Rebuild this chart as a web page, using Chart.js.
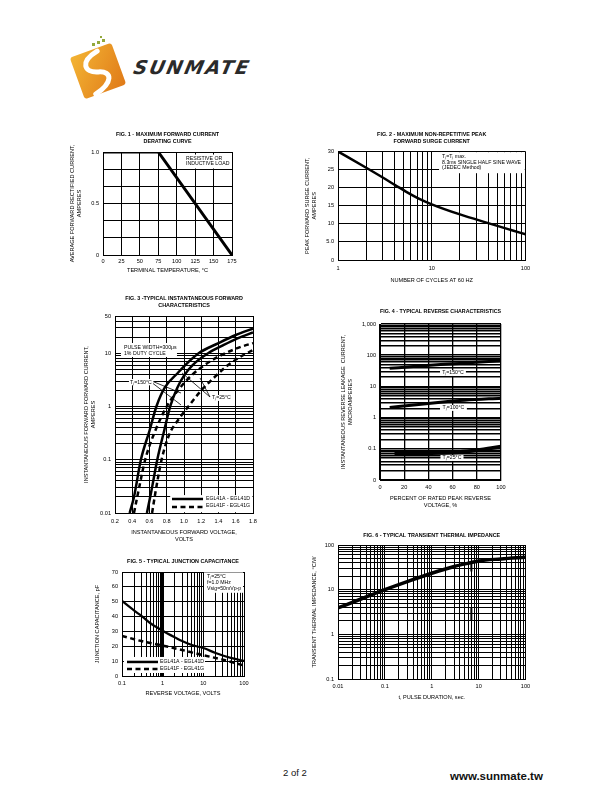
<!DOCTYPE html>
<html>
<head>
  <meta charset="utf-8">
  <title>EGL41 Ratings and Characteristic Curves</title>
  <script src="https://cdn.jsdelivr.net/npm/chart.js"></script>
  <style>
    body { margin: 0; background: #fff; font-family: 'Liberation Sans', Arial, sans-serif; }
    .page { position: relative; width: 610px; height: 810px; overflow: hidden; background: #fff; }
    canvas { position: absolute; }
    .brand { position: absolute; left: 134px; top: 56px; font: bold italic 19px 'DejaVu Sans', sans-serif;
             letter-spacing: 2px; color: #2a2a2a; transform: skewX(-12deg); }
    .pageno { position: absolute; left: 283px; top: 767px; font-size: 9.5px; color: #111; }
    .site { position: absolute; left: 450px; top: 770px; font-size: 11.5px; font-weight: bold; color: #111; }
  </style>
</head>
<body>
<div class="page">
  <svg style="position:absolute;left:62px;top:34px" width="70" height="70" viewBox="0 0 70 70">
    <defs>
      <linearGradient id="og" x1="0" y1="0" x2="1" y2="1">
        <stop offset="0" stop-color="#f3b434"/>
        <stop offset="1" stop-color="#e07a18"/>
      </linearGradient>
    </defs>
    <g transform="rotate(-20 36 37)">
      <rect x="14" y="15" width="44" height="44" rx="3" fill="url(#og)"/>
      <path d="M42 18 C22 22 22 34 36 38 C50 42 46 53 26 58" stroke="#fff" stroke-width="5" fill="none" stroke-linecap="round"/>
    </g>
    <g fill="#93a83c">
      <rect x="30" y="9" width="3" height="3"/><rect x="35" y="7" width="3" height="3"/>
      <rect x="40" y="5" width="3" height="3"/><rect x="38" y="2" width="2" height="2"/>
    </g>
  </svg>
  <div class="brand">SUNMATE</div>

  <canvas id="fig1"></canvas>
  <canvas id="fig2"></canvas>
  <canvas id="fig3"></canvas>
  <canvas id="fig4"></canvas>
  <canvas id="fig5"></canvas>
  <canvas id="fig6"></canvas>

  <div class="pageno">2 of 2</div>
  <div class="site">www.sunmate.tw</div>
</div>

<script>
  // ---------- data ----------
  // Fig 1 - derating curve
  const fig1Temp = [0, 75, 175];
  const fig1Current = [1.0, 1.0, 0];
  const fig1XTicks = [0, 25, 50, 75, 100, 125, 150, 175];
  const fig1YTicks = [0, 0.1667, 0.3333, 0.5, 0.6667, 0.8333, 1.0];
  const fig1YLabelValues = [0, 0.5, 1.0];
  const fig1YLabelText = ['0', '0.5', '1.0'];

  // Fig 2 - surge current
  const fig2Cycles = [1, 2, 3, 4, 5, 7, 10, 20, 40, 70, 100];
  const fig2Surge = [30, 25.5, 22.8, 20.8, 19.3, 17.2, 15.4, 12.6, 10.2, 8.3, 7.1];
  const fig2YTicks = [0, 5, 10, 15, 20, 25, 30];
  const fig2YLabelText = ['0', '5.0', '10', '15', '20', '25', '30'];
  const fig2XLabelValues = [1, 10, 100];
  const fig2XLabelText = ['1', '10', '100'];

  // Fig 3 - forward characteristics (volts, amperes)
  const fig3SolidHotV = [0.37, 0.42, 0.5, 0.6, 0.68, 0.78, 0.93, 1.05, 1.17, 1.4, 1.6, 1.8];
  const fig3SolidHotI = [0.01, 0.02, 0.1, 0.35, 1, 2.3, 4.3, 6.8, 10, 15.5, 22, 29];
  const fig3SolidColdV = [0.57, 0.62, 0.69, 0.77, 0.84, 0.92, 1.0, 1.1, 1.28, 1.45, 1.62, 1.8];
  const fig3SolidColdI = [0.01, 0.025, 0.1, 0.35, 1, 2.2, 3.8, 6, 10, 14, 19, 24.5];
  const fig3DashHotV = [0.42, 0.47, 0.55, 0.65, 0.8, 0.95, 1.1, 1.3, 1.48, 1.65, 1.8];
  const fig3DashHotI = [0.01, 0.025, 0.1, 0.3, 1, 2.2, 4, 7, 10, 13, 15.5];
  const fig3DashColdV = [0.63, 0.67, 0.74, 0.83, 0.93, 1.05, 1.2, 1.35, 1.5, 1.65, 1.8];
  const fig3DashColdI = [0.01, 0.025, 0.1, 0.3, 0.55, 1, 2, 3.5, 5.8, 8.5, 11.5];
  const fig3XTicks = [0.2, 0.4, 0.6, 0.8, 1.0, 1.2, 1.4, 1.6, 1.8];
  const fig3YLabelValues = [0.01, 0.1, 1, 10, 50];
  const fig3YLabelText = ['0.01', '0.1', '1', '10', '50'];
  // leader lines from the Tj labels
  const fig3Lead150aV = [0.641, 0.965], fig3Lead150aI = [2.94, 1.79];
  const fig3Lead150bV = [0.641, 0.965], fig3Lead150bI = [2.70, 1.07];
  const fig3Lead25aV = [1.301, 0.977], fig3Lead25aI = [1.51, 4.26];
  const fig3Lead25bV = [1.301, 1.186], fig3Lead25bI = [1.51, 3.43];

  // Fig 4 - reverse leakage (percent, microamperes)
  const fig4Pct150 = [8, 30, 50, 70, 100];
  const fig4Leak150 = [38, 44, 50, 56, 66];
  const fig4Pct100 = [8, 30, 50, 70, 100];
  const fig4Leak100 = [2.1, 2.6, 3.1, 3.6, 4.2];
  const fig4Pct25 = [12, 30, 50, 65, 80, 100];
  const fig4Leak25 = [0.069, 0.072, 0.074, 0.078, 0.09, 0.118];
  const fig4XTicks = [0, 20, 40, 60, 80, 100];
  const fig4YLabelValues = [0.01, 0.1, 1, 10, 100, 1000];
  const fig4YLabelText = ['0', '0.1', '1', '10', '100', '1,000'];

  // Fig 5 - junction capacitance (volts, pF)
  const fig5SolidV = [0.1, 0.2, 0.3, 0.5, 1, 2, 3, 5, 10, 20, 30, 50, 100];
  const fig5SolidC = [50.5, 44, 40.5, 35.5, 30.5, 26, 23.5, 21, 18.8, 15.5, 13.8, 12, 10.2];
  const fig5DashV = [0.1, 0.3, 1, 3, 10, 30, 100];
  const fig5DashC = [27, 23.5, 20.5, 17.5, 14, 11, 7];
  const fig5YTicks = [0, 10, 20, 30, 40, 50, 60, 70];
  const fig5XLabelValues = [0.1, 1, 10, 100];
  const fig5XLabelText = ['0.1', '1', '10', '100'];

  // Fig 6 - transient thermal impedance (sec, C/W)
  const fig6Time = [0.01, 0.03, 0.1, 0.3, 1, 3, 7, 10, 30, 100];
  const fig6Imp = [3.9, 6.1, 10, 15.2, 23.3, 33, 40.5, 44, 48.7, 53];
  const fig6MarkA = [25.5, 42], fig6MarkB = [2.1, 3.9], fig6MarkT = [7, 7];
  const fig6XLabelValues = [0.01, 0.1, 1, 10, 100];
  const fig6XLabelText = ['0.01', '0.1', '1', '10', '100'];
  const fig6YLabelValues = [0.1, 1, 10, 100];
  const fig6YLabelText = ['0.1', '1', '10', '100'];

  // ---------- helpers ----------
  const FONT = "'Liberation Sans', Arial, sans-serif";
  const TICK_FONT = { family: FONT, size: 5.6, lineHeight: 1.25 };
  const AXIS_FONT = { family: FONT, size: 5.6, lineHeight: 1.25 };
  const TITLE_FONT = { family: FONT, size: 5.4, weight: 'bold', lineHeight: 1.3 };
  const NOTE_FONT = '5.2px ' + FONT;
  const ALH = 5.6 * 1.25, TLH = 5.4 * 1.3;

  function logGrid(lo, hi) {
    const out = [];
    for (let e = Math.floor(Math.log10(lo)); e <= Math.ceil(Math.log10(hi)); e++) {
      for (let k = 1; k <= 9; k++) {
        const v = +(k * Math.pow(10, e)).toPrecision(3);
        if (v >= lo && v <= hi) out.push(v);
      }
    }
    return out;
  }

  function labeler(values, texts) {
    return v => {
      const i = values.findIndex(u => Math.abs(u - v) <= 1e-6 * Math.abs(u));
      return i >= 0 ? texts[i] : '';
    };
  }

  function pts(xs, ys) { return xs.map((x, i) => ({ x, y: ys[i] })); }

  function curve(xs, ys, width, dash, smooth) {
    return {
      data: pts(xs, ys), showLine: true, borderColor: '#000', borderWidth: width,
      borderDash: dash || [], pointRadius: 0, fill: false,
      cubicInterpolationMode: smooth === false ? 'default' : 'monotone', tension: 0
    };
  }

  // notes are placed in fractions of the plot area
  function notesPlugin(notes) {
    return {
      id: 'notes',
      beforeDatasetsDraw(chart) {
        const { ctx, chartArea: a } = chart;
        const X = f => a.left + f * (a.right - a.left);
        const Y = f => a.top + f * (a.bottom - a.top);
        ctx.save();
        notes.forEach(n => {
          if (n.box) {
            ctx.fillStyle = '#fff';
            ctx.fillRect(X(n.box[0]), Y(n.box[1]), X(n.box[2]) - X(n.box[0]), Y(n.box[3]) - Y(n.box[1]));
          }
          if (n.line) {
            ctx.strokeStyle = '#000';
            ctx.lineWidth = n.width || 1;
            ctx.setLineDash(n.dash || []);
            ctx.beginPath();
            ctx.moveTo(X(n.line[0]), Y(n.line[1]));
            ctx.lineTo(X(n.line[2]), Y(n.line[3]));
            ctx.stroke();
            ctx.setLineDash([]);
          }
          if (n.text) {
            ctx.fillStyle = '#000';
            ctx.font = NOTE_FONT;
            ctx.textBaseline = 'middle';
            ctx.textAlign = n.align || 'left';
            n.text.forEach((t, i) => ctx.fillText(t, X(n.x), Y(n.y[i])));
          }
        });
        ctx.restore();
      }
    };
  }

  function axis(type, min, max, ticks, label, gridWidth) {
    return {
      type, min, max,
      grid: { color: '#000', lineWidth: gridWidth || 1, drawTicks: false },
      border: { color: '#000', width: 1 },
      afterBuildTicks: a => { a.ticks = ticks.map(v => ({ value: v })); },
      ticks: { font: TICK_FONT, color: '#000', autoSkip: false, maxRotation: 0, callback: label }
    };
  }

  function build(id, s) {
    const xLines = Array.isArray(s.xTitle) ? s.xTitle.length : 1;
    const tLines = s.title.length;
    const left = Math.floor(s.yTitleX - ALH / 2 - 1);
    const top = Math.floor(s.titleY - TLH / 2 - 1);
    const width = Math.ceil(s.plot.r + 14 - left);
    const axisBottom = s.xTitleY + ALH / 2 + ALH * (xLines - 1) + 1;
    const height = Math.ceil(axisBottom + 1 - top);

    const cv = document.getElementById(id);
    cv.width = width; cv.height = height;
    cv.style.left = left + 'px'; cv.style.top = top + 'px';
    cv.style.width = width + 'px'; cv.style.height = height + 'px';

    const x = s.x, y = s.y;
    x.position = 'bottom';
    x.afterFit = a => { a.height = axisBottom - s.plot.b; };
    x.ticks.padding = s.xLabelY - s.plot.b - ALH / 2;
    x.title = { display: true, text: s.xTitle, font: AXIS_FONT, color: '#000', padding: { top: 0, bottom: 1 } };
    y.position = 'left';
    y.afterFit = a => { a.width = s.plot.l - left; };
    y.ticks.padding = 4;
    y.title = { display: true, text: s.yTitle, font: AXIS_FONT, color: '#000',
                padding: { top: s.yTitleX - ALH / 2 - left, bottom: 0 } };

    return new Chart(cv.getContext('2d'), {
      type: 'scatter',
      data: { datasets: s.datasets },
      options: {
        responsive: false, animation: false, devicePixelRatio: 1, events: [],
        layout: { autoPadding: false, padding: { left: 0, top: 0, right: left + width - s.plot.r, bottom: top + height - axisBottom } },
        scales: { x, y },
        plugins: {
          legend: { display: false }, tooltip: { enabled: false },
          title: {
            display: true, text: s.title, font: TITLE_FONT, color: '#000', fullSize: false,
            padding: { top: s.titleY - TLH / 2 - top, bottom: s.plot.t - (s.titleY - TLH / 2) - tLines * TLH }
          }
        }
      },
      plugins: [notesPlugin(s.notes || [])]
    });
  }

  // ---------- Fig 1 ----------
  build('fig1', {
    plot: { l: 103, t: 152, r: 232, b: 255 },
    titleY: 134.5, yTitleX: 72.5, xTitleY: 270.5, xLabelY: 261,
    title: ['FIG. 1 - MAXIMUM FORWARD CURRENT', 'DERATING CURVE'],
    yTitle: ['AVERAGE FORWARD RECTIFIED CURRENT,', 'AMPERES'],
    xTitle: 'TERMINAL TEMPERATURE, \u00B0C',
    x: axis('linear', 0, 175, fig1XTicks, v => String(v)),
    y: axis('linear', 0, 1, fig1YTicks, labeler(fig1YLabelValues, fig1YLabelText)),
    datasets: [curve(fig1Temp, fig1Current, 3, null, false)],
    notes: [
      { box: [0.62, 0.025, 0.975, 0.16] },
      { text: ['RESISTIVE OR', 'INDUCTIVE LOAD'], x: 0.643, y: [0.061, 0.115] }
    ]
  });

  // ---------- Fig 2 ----------
  build('fig2', {
    plot: { l: 338, t: 151.5, r: 525.5, b: 260 },
    titleY: 134.5, yTitleX: 307, xTitleY: 280.5, xLabelY: 268,
    title: ['FIG. 2 - MAXIMUM NON-REPETITIVE PEAK', 'FORWARD SURGE CURRENT'],
    yTitle: ['PEAK FORWARD SURGE CURRENT,', 'AMPERES'],
    xTitle: 'NUMBER OF CYCLES AT 60 HZ',
    x: axis('logarithmic', 1, 100, logGrid(1, 100), labeler(fig2XLabelValues, fig2XLabelText)),
    y: axis('linear', 0, 30, fig2YTicks, labeler(fig2YTicks, fig2YLabelText)),
    datasets: [curve(fig2Cycles, fig2Surge, 2.5)],
    notes: [
      { box: [0.539, 0.006, 0.996, 0.2] },
      { text: ['T\u2C7C=T\u2C7C max.', '8.3ms SINGLE HALF SINE WAVE', '(JEDEC Method)'], x: 0.555, y: [0.05, 0.1, 0.152] }
    ]
  });

  // ---------- Fig 3 ----------
  const DASH = [5, 3.5];
  build('fig3', {
    plot: { l: 115, t: 316, r: 253, b: 513 },
    titleY: 298.5, yTitleX: 86.5, xTitleY: 532, xLabelY: 521,
    title: ['FIG. 3 -TYPICAL INSTANTANEOUS FORWARD', 'CHARACTERISTICS'],
    yTitle: ['INSTANTANEOUS FORWARD FORWARD CURRENT,', 'AMPERES'],
    xTitle: ['INSTANTANEOUS FORWARD VOLTAGE,', 'VOLTS'],
    x: axis('linear', 0.2, 1.8, fig3XTicks, v => v.toFixed(1)),
    y: axis('logarithmic', 0.01, 50, logGrid(0.01, 50), labeler(fig3YLabelValues, fig3YLabelText)),
    datasets: [
      curve(fig3SolidHotV, fig3SolidHotI, 2.5),
      curve(fig3SolidColdV, fig3SolidColdI, 2.5),
      curve(fig3DashHotV, fig3DashHotI, 2.5, DASH),
      curve(fig3DashColdV, fig3DashColdI, 2.5, DASH),
      curve(fig3Lead150aV, fig3Lead150aI, 0.8, null, false),
      curve(fig3Lead150bV, fig3Lead150bI, 0.8, null, false),
      curve(fig3Lead25aV, fig3Lead25aI, 0.8, null, false),
      curve(fig3Lead25bV, fig3Lead25bI, 0.8, null, false)
    ],
    notes: [
      { box: [0.043, 0.137, 0.449, 0.208] },
      { text: ['PULSE WIDTH=300\u03BCs', '1% DUTY CYCLE'], x: 0.065, y: [0.16, 0.19] },
      { box: [0.101, 0.32, 0.283, 0.352] },
      { text: ['T\u2C7C=150\u00B0C'], x: 0.109, y: [0.336] },
      { box: [0.696, 0.401, 0.862, 0.431] },
      { text: ['T\u2C7C=25\u00B0C'], x: 0.703, y: [0.416] },
      { box: [0.4, 0.909, 0.996, 0.996] },
      { line: [0.413, 0.929, 0.638, 0.929], width: 2.5 },
      { line: [0.413, 0.97, 0.638, 0.97], width: 2.5, dash: DASH },
      { text: ['EGL41A - EGL41D'], x: 0.659, y: [0.929] },
      { text: ['EGL41F - EGL41G'], x: 0.659, y: [0.964] }
    ]
  });

  // ---------- Fig 4 ----------
  build('fig4', {
    plot: { l: 380, t: 324, r: 501, b: 480 },
    titleY: 311.5, yTitleX: 343.5, xTitleY: 498.5, xLabelY: 487,
    title: ['FIG. 4 - TYPICAL REVERSE CHARACTERISTICS'],
    yTitle: ['INSTANTANEOUS REVERSE LEAKAGE  CURRENT,', 'MICROAMPERES'],
    xTitle: ['PERCENT OF RATED PEAK REVERSE', 'VOLTAGE, %'],
    x: axis('linear', 0, 100, fig4XTicks, v => String(v), 1.3),
    y: axis('logarithmic', 0.01, 1000, logGrid(0.01, 1000), labeler(fig4YLabelValues, fig4YLabelText), 1.4),
    datasets: [
      curve(fig4Pct150, fig4Leak150, 3),
      curve(fig4Pct100, fig4Leak100, 3),
      curve(fig4Pct25, fig4Leak25, 3.8)
    ],
    notes: [
      { box: [0.496, 0.295, 0.71, 0.333] },
      { text: ['T\u2C7C=150\u00B0C'], x: 0.603, y: [0.314], align: 'center' },
      { box: [0.496, 0.519, 0.718, 0.557] },
      { text: ['T\u2C7C=100\u00B0C'], x: 0.607, y: [0.538], align: 'center' },
      { box: [0.5, 0.84, 0.69, 0.878] },
      { text: ['T\u2C7C=25\u00B0C'], x: 0.595, y: [0.859], align: 'center' }
    ]
  });

  // ---------- Fig 5 ----------
  build('fig5', {
    plot: { l: 122, t: 572, r: 244, b: 676 },
    titleY: 561.5, yTitleX: 97.5, xTitleY: 693.5, xLabelY: 683,
    title: ['FIG. 5 - TYPICAL JUNCTION CAPACITANCE'],
    yTitle: 'JUNCTION CAPACITANCE, pF',
    xTitle: 'REVERSE VOLTAGE, VOLTS',
    x: axis('logarithmic', 0.1, 100, logGrid(0.1, 100), labeler(fig5XLabelValues, fig5XLabelText),
            c => (c.tick && c.tick.value === 1 ? 3 : 1)),
    y: axis('linear', 0, 70, fig5YTicks, v => String(v)),
    datasets: [
      curve(fig5SolidV, fig5SolidC, 2.2),
      curve(fig5DashV, fig5DashC, 2.5, DASH)
    ],
    notes: [
      { box: [0.672, 0.004, 0.992, 0.2] },
      { text: ['T\u2C7C=25\u00B0C', 'f=1.0 MHz', 'Vsig=50mVp-p'], x: 0.697, y: [0.043, 0.101, 0.159] },
      { box: [0.016, 0.817, 0.68, 0.971] },
      { line: [0.041, 0.865, 0.295, 0.865], width: 2.5 },
      { line: [0.041, 0.933, 0.295, 0.933], width: 2.5, dash: DASH },
      { text: ['EGL41A - EGL41D'], x: 0.311, y: [0.858] },
      { text: ['EGL41F - EGL41G'], x: 0.311, y: [0.925] }
    ]
  });

  // ---------- Fig 6 ----------
  build('fig6', {
    plot: { l: 338, t: 545, r: 525.5, b: 679 },
    titleY: 535.5, yTitleX: 314, xTitleY: 697.5, xLabelY: 686,
    title: ['FIG. 6 - TYPICAL TRANSIENT THERMAL IMPEDANCE'],
    yTitle: 'TRANSIENT THERMAL IMPEDANCE, \u00B0C/W',
    xTitle: 't, PULSE DURATION, sec.',
    x: axis('logarithmic', 0.01, 100, logGrid(0.01, 100), labeler(fig6XLabelValues, fig6XLabelText)),
    y: axis('logarithmic', 0.1, 100, logGrid(0.1, 100), labeler(fig6YLabelValues, fig6YLabelText)),
    datasets: [
      curve(fig6Time, fig6Imp, 3.5),
      curve(fig6MarkT, fig6MarkA, 2, null, false),
      curve(fig6MarkT, fig6MarkB, 2, null, false)
    ]
  });
</script>
</body>
</html>
